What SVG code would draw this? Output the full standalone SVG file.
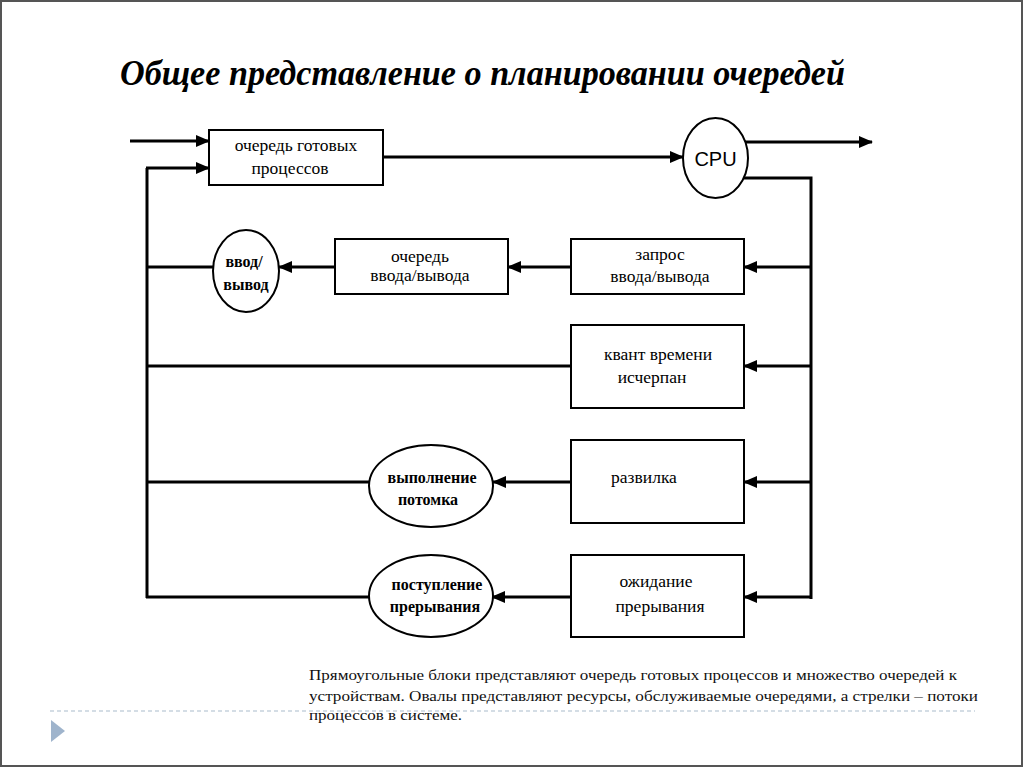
<svg xmlns="http://www.w3.org/2000/svg" width="1024" height="768" viewBox="0 0 1024 768">
<defs>
<marker id="ah" markerUnits="userSpaceOnUse" markerWidth="14" markerHeight="12" refX="13" refY="6" orient="auto">
<path d="M0,0 L14,6 L0,12 z" fill="#000"/>
</marker>
<style>
.frame{fill:#fff;stroke:#555;stroke-width:2}
.box{fill:#fff;stroke:#000;stroke-width:2}
.ov{fill:#fff;stroke:#000;stroke-width:2}
.ln{fill:none;stroke:#000;stroke-width:3}
.ar{fill:none;stroke:#000;stroke-width:3;marker-end:url(#ah)}
.t{font-family:"Liberation Serif","Times New Roman",serif;font-size:17.5px;fill:#000;text-anchor:middle}
.tb{font-family:"Liberation Serif","Times New Roman",serif;font-size:16px;font-weight:bold;fill:#000;text-anchor:middle}
.cap{font-family:"Liberation Serif","Times New Roman",serif;font-size:15px;fill:#111}
</style>
</defs>
<rect class="frame" x="1" y="1" width="1021" height="765"/>
<text x="120" y="85" font-family="Liberation Serif, Times New Roman, serif" font-size="36" font-weight="bold" font-style="italic" textLength="725" lengthAdjust="spacingAndGlyphs">Общее представление о планировании очередей</text>

<g id="connectors">
<path class="ar" d="M130,141 H209"/>
<path class="ln" d="M147,168 V598"/>
<path class="ar" d="M146,168 H209"/>
<path class="ar" d="M383,157 H683"/>
<path class="ar" d="M745,142 H872"/>
<path class="ln" d="M744,178 H811 V599"/>
<path class="ar" d="M811,267 H744"/>
<path class="ar" d="M571,267 H508"/>
<path class="ar" d="M335,267 H279"/>
<path class="ln" d="M213,267 H147"/>
<path class="ar" d="M811,366 H744"/>
<path class="ln" d="M571,366 H147"/>
<path class="ar" d="M811,482 H744"/>
<path class="ar" d="M571,482 H493"/>
<path class="ln" d="M369,482 H147"/>
<path class="ar" d="M812,597 H744"/>
<path class="ar" d="M571,597 H492"/>
<path class="ln" d="M369,597 H146"/>
</g>

<g id="ready-queue">
<rect class="box" x="209" y="130" width="174" height="55"/>
<text class="t" x="296" y="151">очередь готовых</text>
<text class="t" x="290" y="174">процессов</text>
</g>
<g id="cpu">
<ellipse class="ov" cx="715.5" cy="158" rx="32.5" ry="40"/>
<text x="715.5" y="166" font-family="Liberation Sans, Arial, sans-serif" font-size="20" text-anchor="middle">CPU</text>
</g>
<g id="io-request">
<rect class="box" x="571" y="239" width="173" height="55"/>
<text class="t" x="660" y="260">запрос</text>
<text class="t" x="660" y="282">ввода/вывода</text>
</g>
<g id="io-queue">
<rect class="box" x="335" y="239" width="173" height="55"/>
<text class="t" x="420" y="262">очередь</text>
<text class="t" x="420" y="281">ввода/вывода</text>
</g>
<g id="io">
<ellipse class="ov" cx="246" cy="271" rx="33" ry="41"/>
<text class="tb" x="244" y="267">ввод/</text>
<text class="tb" x="246" y="290">вывод</text>
</g>
<g id="time-slice">
<rect class="box" x="571" y="325" width="173" height="83"/>
<text class="t" x="658" y="360">квант времени</text>
<text class="t" x="652" y="383">исчерпан</text>
</g>
<g id="fork">
<rect class="box" x="571" y="440" width="173" height="83"/>
<text class="t" x="644" y="483">развилка</text>
</g>
<g id="child-exec">
<ellipse class="ov" cx="431" cy="486" rx="62" ry="41"/>
<text class="tb" x="432" y="483">выполнение</text>
<text class="tb" x="428" y="505">потомка</text>
</g>
<g id="wait-interrupt">
<rect class="box" x="571" y="555" width="173" height="82"/>
<text class="t" x="656" y="587">ожидание</text>
<text class="t" x="660" y="612">прерывания</text>
</g>
<g id="interrupt">
<ellipse class="ov" cx="431" cy="596" rx="62" ry="41"/>
<text class="tb" x="437" y="590">поступление</text>
<text class="tb" x="435" y="612">прерывания</text>
</g>

<line x1="50" y1="711" x2="975" y2="711" stroke="#a9bccb" stroke-width="1.2" stroke-dasharray="4,3"/>
<polygon points="51,720 65,731 51,742" fill="#9fb4cc"/>
<text class="cap" x="309" y="680" textLength="648" lengthAdjust="spacingAndGlyphs">Прямоугольные блоки представляют очередь готовых процессов и множество очередей к</text>
<text class="cap" x="309" y="701" textLength="669" lengthAdjust="spacingAndGlyphs">устройствам. Овалы представляют ресурсы, обслуживаемые очередями, а стрелки – потоки</text>
<text class="cap" x="309" y="720" textLength="153" lengthAdjust="spacingAndGlyphs">процессов в системе.</text>
</svg>
